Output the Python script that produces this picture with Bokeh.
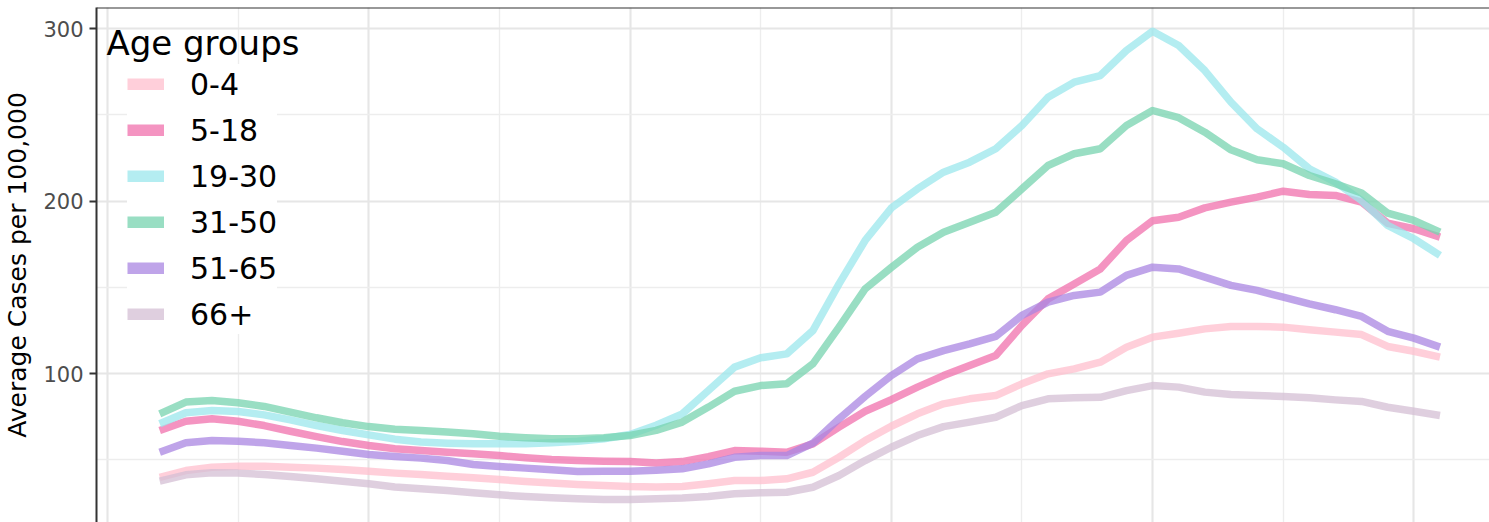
from bokeh.plotting import figure
from bokeh.models import Range1d, FixedTicker, SingleIntervalTicker, Legend, LegendItem, Label, Span
from bokeh.embed import file_html
from bokeh.resources import INLINE

# ---------------- data ----------------
weeks = list(range(2, 52))
age_groups = ["0-4", "5-18", "19-30", "31-50", "51-65", "66+"]

cases_0_4 = [39.8, 43.7, 45.6, 46.2, 46.2, 45.6, 45.1, 44.3, 43.3, 42.2,
             41.4, 40.4, 39.5, 38.5, 37.3, 36.4, 35.6, 35.0, 34.4, 34.2,
             34.4, 36.0, 37.9, 37.9, 38.9, 42.7, 51.4, 61.1, 69.4, 76.6,
             82.4, 85.3, 87.2, 94.0, 99.8, 102.7, 106.6, 115.3, 121.1, 123.4,
             125.9, 127.3, 127.3, 126.9, 125.4, 124.0, 122.6, 115.7, 112.9, 109.5]
cases_5_18 = [66.9, 72.3, 73.7, 72.3, 69.8, 66.5, 63.4, 60.5, 58.2, 56.3,
              55.3, 54.3, 53.4, 52.4, 51.1, 50.1, 49.5, 49.1, 48.9, 48.1,
              48.9, 51.8, 55.3, 54.9, 54.3, 59.2, 68.9, 78.1, 84.8, 92.1,
              98.8, 104.6, 110.4, 127.9, 143.3, 152.0, 160.7, 177.2, 188.6, 190.7,
              196.1, 199.4, 202.3, 205.8, 203.9, 203.3, 199.4, 187.2, 184.0, 179.1]
cases_19_30 = [70.8, 77.2, 78.5, 78.0, 76.0, 73.1, 69.8, 66.9, 64.4, 61.9,
               60.2, 59.6, 59.2, 59.2, 59.2, 59.8, 60.7, 62.1, 64.6, 70.0,
               76.6, 90.1, 103.7, 109.1, 111.4, 124.9, 152.0, 177.2, 196.0, 207.1,
               216.8, 222.6, 230.4, 243.9, 260.3, 269.0, 272.9, 287.4, 298.6, 290.3,
               275.8, 257.4, 242.0, 231.3, 218.8, 211.0, 200.4, 185.9, 178.2, 168.5]
cases_31_50 = [76.6, 83.4, 84.3, 83.0, 80.9, 77.6, 74.3, 71.4, 69.2, 67.6,
               66.9, 66.0, 65.0, 63.6, 62.7, 62.1, 62.1, 62.7, 64.0, 67.0,
               71.8, 80.5, 89.7, 93.0, 94.0, 105.6, 126.9, 149.1, 161.5, 173.3,
               182.0, 187.8, 193.6, 207.1, 220.7, 227.5, 230.4, 243.9, 252.6, 248.4,
               240.0, 229.8, 224.0, 221.7, 214.9, 210.1, 204.7, 193.0, 188.8, 182.0]
cases_51_65 = [54.3, 59.8, 61.1, 60.7, 59.8, 58.2, 56.7, 54.9, 53.0, 51.8,
               50.9, 49.5, 47.2, 46.0, 45.1, 44.1, 43.1, 43.3, 43.3, 43.9,
               44.7, 47.6, 51.4, 52.4, 52.4, 59.6, 73.7, 86.7, 98.8, 108.5,
               113.3, 117.2, 121.5, 133.7, 141.4, 145.3, 147.2, 156.9, 161.7, 160.7,
               155.9, 151.1, 148.2, 144.3, 140.4, 137.0, 133.1, 124.5, 120.5, 115.3]
cases_66_plus = [37.5, 41.2, 42.4, 42.2, 41.4, 40.2, 38.9, 37.5, 36.0, 34.2,
                 33.1, 32.1, 30.8, 29.6, 28.6, 27.9, 27.3, 26.9, 26.9, 27.3,
                 27.7, 28.6, 30.2, 30.8, 31.1, 34.0, 40.8, 49.5, 57.2, 64.0,
                 69.2, 71.8, 74.6, 81.4, 85.3, 85.9, 86.2, 90.1, 93.0, 92.1,
                 89.2, 87.8, 87.2, 86.7, 85.9, 84.7, 83.8, 80.4, 78.1, 75.6]

series = [cases_0_4, cases_5_18, cases_19_30, cases_31_50, cases_51_65, cases_66_plus]
colors = ["#FFBFCD", "#F070AC", "#9BE7EC", "#77D3AF", "#A986E2", "#D4BFD4"]

y_major_ticks = [100, 200, 300]
y_minor_ticks = [50, 150, 250]

# ---------------- figure ----------------
FONT = "DejaVu Sans"
Y_TOP = 312.36
p = figure(width=1489, height=522, output_backend="svg", toolbar_location=None,
           x_range=Range1d(-0.419, 52.896), y_range=Range1d(13.55, Y_TOP),
           min_border_left=90, min_border_right=0, min_border_top=7, min_border_bottom=0)
p.outline_line_color = None
p.background_fill_color = "white"
p.border_fill_color = "white"

p.xaxis.visible = False
p.xaxis.ticker = SingleIntervalTicker(interval=10, num_minor_ticks=2)
p.xgrid.ticker = SingleIntervalTicker(interval=10, num_minor_ticks=2)
p.xgrid.grid_line_color = "#e6e6e6"
p.xgrid.grid_line_width = 2
p.xgrid.minor_grid_line_color = "#ededed"
p.xgrid.minor_grid_line_width = 1.4

yt = FixedTicker(ticks=y_major_ticks, minor_ticks=y_minor_ticks)
p.yaxis.ticker = yt
p.ygrid.ticker = yt
p.ygrid.grid_line_color = "#e6e6e6"
p.ygrid.grid_line_width = 2
p.ygrid.minor_grid_line_color = "#ededed"
p.ygrid.minor_grid_line_width = 1.4

ax = p.yaxis[0]
ax.axis_label = "Average Cases per 100,000"
ax.axis_label_text_font = FONT
ax.axis_label_text_font_size = "25px"
ax.axis_label_text_font_style = "normal"
ax.axis_label_text_color = "black"
ax.axis_label_standoff = 8
ax.major_label_text_font = FONT
ax.major_label_text_font_size = "21px"
ax.major_label_text_color = "#4d4d4d"
ax.major_label_standoff = 6
ax.major_tick_out = 7
ax.major_tick_in = 0
ax.minor_tick_out = 0
ax.minor_tick_in = 0
ax.axis_line_color = "#333333"
ax.axis_line_width = 2
ax.major_tick_line_color = "#333333"
ax.major_tick_line_width = 2

# data lines
for vals, col in zip(series, colors):
    p.line(weeks, vals, line_width=7.5, line_color=col, line_alpha=0.75, line_join="round")

# top border of the panel
p.add_layout(Span(location=Y_TOP, dimension="width", line_color="#333333", line_width=2))

# legend (proxy renderers with thicker keys; a single empty point so nothing shows in the panel)
items = []
for name, col in zip(age_groups, colors):
    r = p.line(x=[weeks[0]], y=[float("nan")], line_width=12, line_color=col, line_alpha=0.75)
    items.append(LegendItem(label=name, renderers=[r]))

legend = Legend(items=items, location=(31, 188), margin=0, padding=10, spacing=6,
                glyph_width=37, glyph_height=12, label_height=40, label_standoff=26,
                label_text_font=FONT, label_text_font_size="30px", label_text_color="black",
                background_fill_color="white", background_fill_alpha=1.0,
                border_line_color=None)
p.add_layout(legend)

p.add_layout(Label(x=-0.04, y=292.0, text="Age groups", text_font=FONT,
                   text_font_size="34px", text_color="black",
                   text_align="left", text_baseline="alphabetic"))

open("out.html", "w").write(file_html(p, INLINE))
